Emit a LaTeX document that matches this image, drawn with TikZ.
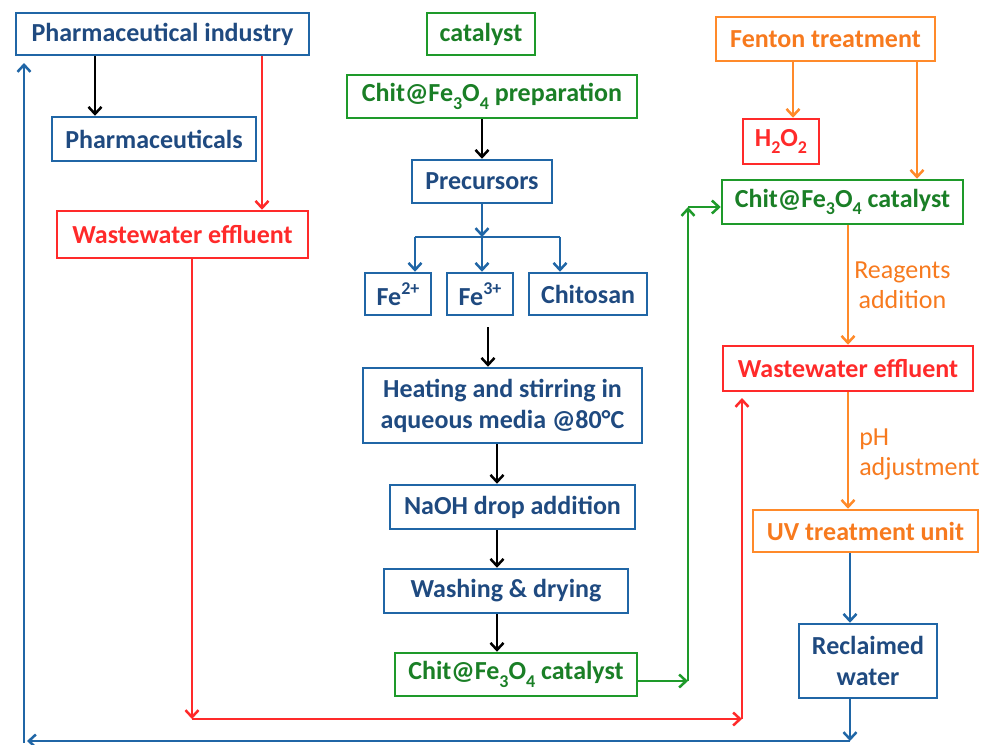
\documentclass[tikz,border=0pt]{standalone}
\usepackage{fontspec}
\setmainfont{Carlito}
\usetikzlibrary{arrows.meta}
\definecolor{bbox}{HTML}{2066A6}
\definecolor{btxt}{HTML}{1F4A80}
\definecolor{gbox}{HTML}{1E9A2A}
\definecolor{gtxt}{HTML}{1A7F26}
\definecolor{rbox}{HTML}{FF2A2A}
\definecolor{obox}{HTML}{FF8A2A}
\definecolor{otxt}{HTML}{F77A1E}
\newcommand\sbs[1]{\raisebox{-0.28em}{\fontsize{18}{18}\selectfont #1}}
\newcommand\sps[1]{\raisebox{0.42em}{\fontsize{18}{18}\selectfont #1}}
\begin{document}
\begin{tikzpicture}[x=1pt,y=-1pt, line width=2.5pt,
  >={Straight Barb[length=7pt,width=13pt]},
  box/.style={draw, rectangle, inner sep=0pt, font=\fontsize{26}{31}\selectfont\bfseries, align=center},
  bluebox/.style={box, draw=bbox, text=btxt},
  greenbox/.style={box, draw=gbox, text=gtxt},
  redbox/.style={box, draw=rbox, text=rbox},
  orangebox/.style={box, draw=obox, text=otxt},
  lab/.style={inner sep=0pt, font=\fontsize{26}{30}\selectfont, text=otxt},
  sz/.style 2 args={minimum width=#1pt, minimum height=#2pt}
]
\useasboundingbox (0,0) rectangle (989,745);

% left column
\node[bluebox, sz={293}{42}] (pind) at (162.5,34) {Pharmaceutical industry};
\node[bluebox, sz={204}{44}] (pharm) at (154,139) {Pharmaceuticals};
\node[redbox, sz={251}{47}] (wwl) at (182.5,234.5) {Wastewater effluent};

% middle column
\node[greenbox, sz={108}{42}] (cat) at (481,34) {catalyst};
\node[greenbox, sz={290}{43}] (prep) at (492,96.5) {Chit@Fe\sbs{3}O\sbs{4} preparation};
\node[bluebox, sz={140}{43}] (prec) at (482,181.5) {Precursors};
\node[bluebox, sz={66}{42}] (fe2) at (398,294) {Fe\sps{2+}};
\node[bluebox, sz={66}{42}] (fe3) at (480,294) {Fe\sps{3+}};
\node[bluebox, sz={118}{42}] (chito) at (588,294) {Chitosan};
\node[bluebox, sz={279}{75}] (heat) at (502.5,405.5) {Heating and stirring in\\aqueous media @80°C};
\node[bluebox, sz={245}{44}] (naoh) at (512.5,507) {NaOH drop addition};
\node[bluebox, sz={244}{44}] (wash) at (506,591) {Washing \& drying};
\node[greenbox, sz={242}{43}] (catb) at (516,674.5) {Chit@Fe\sbs{3}O\sbs{4} catalyst};

% right column
\node[orangebox, sz={219}{44}] (fenton) at (825.5,39) {Fenton treatment};
\node[redbox, sz={76}{45}] (h2o2) at (781,141.5) {H\sbs{2}O\sbs{2}};
\node[greenbox, sz={241}{44}] (catr) at (842.5,202) {Chit@Fe\sbs{3}O\sbs{4} catalyst};
\node[redbox, sz={250}{45}] (wwr) at (848,368.5) {Wastewater effluent};
\node[orangebox, sz={225}{42}] (uv) at (865.5,531) {UV treatment unit};
\node[bluebox, sz={138}{74}] (rw) at (868,661) {Reclaimed\\water};

% helper coordinates
\coordinate (xa) at (95,0);
\coordinate (xb) at (262,0);
\coordinate (xc) at (482,0);
\coordinate (xd) at (488,0);
\coordinate (xe) at (497,0);
\coordinate (xf) at (793,0);
\coordinate (xg) at (917,0);
\coordinate (xo) at (848,0);
\coordinate (jc) at (482,237);
\coordinate (jl) at (415,237);
\coordinate (jr) at (560,237);
\coordinate (g1) at (688,681);
\coordinate (g2) at (688,207);
\coordinate (r1) at (192,719);
\coordinate (r2) at (742,719);
\coordinate (r3) at (742,398);
\coordinate (b1) at (850,741);
\coordinate (b2) at (27,741);
\coordinate (b3) at (24,743);
\coordinate (b4) at (24,63);

% left connectors
\draw[->, black] (pind.south -| xa) -- (pharm.north -| xa);
\draw[->, rbox] (pind.south -| xb) -- (wwl.north -| xb);

% middle connectors
\draw[->, black] (prep.south -| xc) -- (prec.north -| xc);
\draw[->, bbox] (prec.south -| jc) -- (jc);
\draw[bbox] (jl) -- (jr);
\draw[->, bbox] (jl) -- (fe2.north -| jl);
\draw[->, bbox] (jc) -- (fe3.north -| jc);
\draw[->, bbox] (jr) -- (chito.north -| jr);
\draw[->, black, shorten <=11pt] (fe3.south -| xd) -- (heat.north -| xd);
\draw[->, black] (heat.south -| xe) -- (naoh.north -| xe);
\draw[->, black] (naoh.south -| xe) -- (wash.north -| xe);
\draw[->, black] (wash.south -| xe) -- (catb.north -| xe);

% green route
\draw[->, gbox] (catb.east |- g1) -- (g1);
\draw[->, gbox] (g1) -- (g2);
\draw[->, gbox] (g2) -- (catr.west |- g2);

% right connectors
\draw[->, obox] (fenton.south -| xf) -- (h2o2.north -| xf);
\draw[->, obox] (fenton.south -| xg) -- (catr.north -| xg);
\draw[->, obox] (catr.south -| xo) -- node[lab, anchor=west, xshift=5pt, align=center] (lreag) {Reagents\\addition} (wwr.north -| xo);
\draw[->, obox] (wwr.south -| xo) -- node[lab, anchor=west, xshift=10pt, yshift=-4pt, align=left] (lph) {pH\\adjustment} (uv.north -| xo);
\draw[->, bbox] (uv.south -| b1) -- (rw.north -| b1);
\draw[->, bbox] (rw.south -| b1) -- (b1);

% return lines
\draw[->, bbox] (b1) -- (b2);
\draw[->, bbox] (b3) -- (b4);
\draw[->, rbox] (wwl.south -| r1) -- (r1);
\draw[->, rbox] (r1) -- (r2);
\draw[->, rbox] (r2) -- (r3);
\end{tikzpicture}
\end{document}
